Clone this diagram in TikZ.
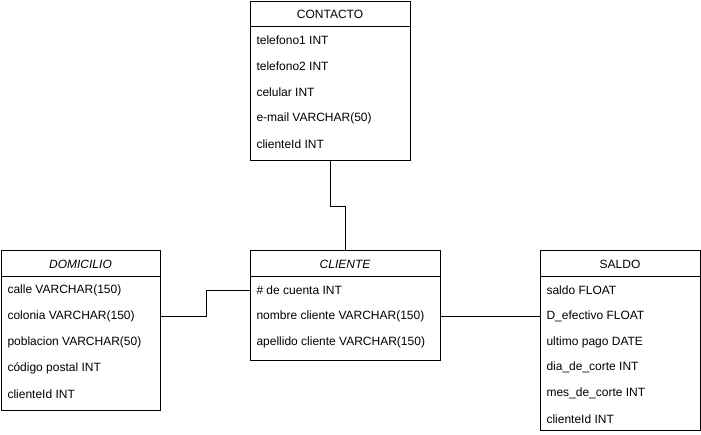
\documentclass[tikz,border=0pt]{standalone}
\usepackage{fontspec}
\setmainfont{Liberation Sans}
\usetikzlibrary{positioning}

\begin{document}
\begin{tikzpicture}[x=1pt,y=-1pt,line width=1pt,
		tabla/.style={draw,anchor=north west,inner sep=0pt},
		fila/.style={anchor=west,inner xsep=6pt,inner ysep=0pt,font=\fontsize{12}{14}\selectfont},
		titulo/.style={inner sep=0pt,font=\fontsize{12}{14}\selectfont}]
		\useasboundingbox (0,0) rectangle (701,434);
		% tablas
		\node[tabla,minimum width=160pt,minimum height=159.5pt] (contacto) at (250,0.5) {};
		\node[tabla,minimum width=190pt,minimum height=110pt] (cliente) at (250,250) {};
		\node[tabla,minimum width=159pt,minimum height=160pt] (domicilio) at (1,250) {};
		\node[tabla,minimum width=160pt,minimum height=180pt] (saldo) at (540,250) {};
		\draw (250,26) -- (410,26);
		\draw (250,276) -- (440,276);
		\draw (1,276) -- (160,276);
		\draw (540,276) -- (700,276);
		% encabezados
		\node[titulo] (tcontacto) at (330,14) {CONTACTO};
		\node[titulo] (tcliente) at (345,264) {\itshape CLIENTE};
		\node[titulo] (tdomicilio) at (80.5,264) {\itshape DOMICILIO};
		\node[titulo] (tsaldo) at (620,264) {SALDO};
		% campos
		\foreach \t [count=\i] in {telefono1 INT, telefono2 INT, celular INT, e-mail VARCHAR(50), clienteId INT}
			\node[fila] (ct\i) at (250,14+26*\i) {\t};
		\foreach \t [count=\i] in {\# de cuenta INT, nombre cliente VARCHAR(150), apellido cliente VARCHAR(150)}
			\node[fila] (cl\i) at (250,264.5+26*\i) {\t};
		\foreach \t [count=\i] in {calle VARCHAR(150), colonia VARCHAR(150), poblacion VARCHAR(50), código postal INT, clienteId INT}
			\node[fila] (dm\i) at (1,264.5+26*\i) {\t};
		\foreach \t [count=\i] in {saldo FLOAT, D\_efectivo FLOAT, ultimo pago DATE, dia\_de\_corte INT, mes\_de\_corte INT, clienteId INT}
			\node[fila] (sd\i) at (540,264.5+25.8*\i) {\t};
		% relaciones
		\draw (contacto.south) -- ++(0,45) -| (cliente.north);
		\draw (domicilio.east |- dm2) -- ++(45,0) |- (cl1.west);
		\draw (cliente.east |- cl2) -- (saldo.west |- cl2);
\end{tikzpicture}
\end{document}
